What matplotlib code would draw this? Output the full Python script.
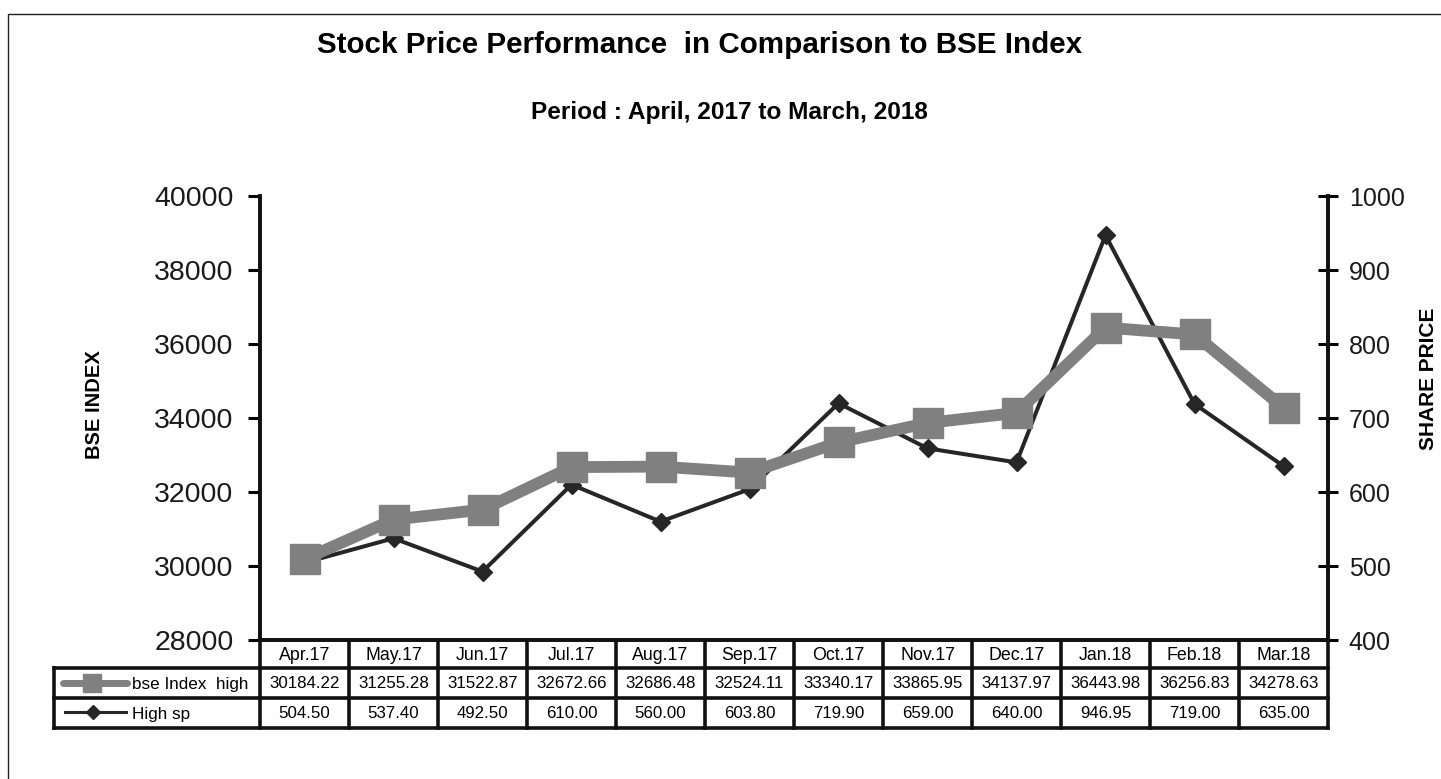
import matplotlib
matplotlib.use("Agg")
import matplotlib.pyplot as plt
from matplotlib.lines import Line2D
from matplotlib.patches import Rectangle

plt.rcParams['font.family'] = ['Liberation Sans', 'DejaVu Sans']

months = ["Apr.17", "May.17", "Jun.17", "Jul.17", "Aug.17", "Sep.17",
          "Oct.17", "Nov.17", "Dec.17", "Jan.18", "Feb.18", "Mar.18"]
bse_high = [30184.22, 31255.28, 31522.87, 32672.66, 32686.48, 32524.11,
            33340.17, 33865.95, 34137.97, 36443.98, 36256.83, 34278.63]
high_sp = [504.50, 537.40, 492.50, 610.00, 560.00, 603.80,
           719.90, 659.00, 640.00, 946.95, 719.00, 635.00]
series_names = ["bse Index  high", "High sp"]
left_ticks = [28000, 30000, 32000, 34000, 36000, 38000, 40000]
right_ticks = [400, 500, 600, 700, 800, 900, 1000]

W, H = 1441, 779
fig = plt.figure(figsize=(W / 100, H / 100), dpi=100)

def fx(px):
    return px / W

def fy(py):
    return 1 - py / H

L, R, T, B = 260, 1328, 196, 640
ax = fig.add_axes([fx(L), fy(B), fx(R) - fx(L), fy(T) - fy(B)])
ax2 = ax.twinx()

gray = "#808080"
dark = "#262626"
x = list(range(len(months)))

ax.plot(x, bse_high, color=gray, lw=8.5, marker="s", markersize=21,
        markerfacecolor=gray, markeredgecolor=gray, solid_joinstyle="round", zorder=2)
ax2.plot(x, high_sp, color=dark, lw=2.9, marker="D", markersize=9,
         markerfacecolor=dark, markeredgecolor=dark, zorder=3)

ax.set_xlim(-0.5, len(months) - 0.5)
ax.set_ylim(28000, 40000)
ax2.set_ylim(400, 1000)
ax.set_yticks(left_ticks)
ax2.set_yticks(right_ticks)
ax.set_xticks([])
ax.tick_params(axis="y", direction="out", length=9, width=2.2, labelsize=20.5, pad=10,
               labelcolor="#1a1a1a")
ax2.tick_params(axis="y", direction="inout", length=14, width=2.2, labelsize=18, pad=8,
                labelcolor="#1a1a1a")
for a in (ax, ax2):
    a.spines["top"].set_visible(False)
    for s in ("left", "right", "bottom"):
        a.spines[s].set_linewidth(2.6)
        a.spines[s].set_color("#111111")
ax.set_zorder(ax2.get_zorder() + 1)
ax.patch.set_visible(False)

# outer border
fig.add_artist(Rectangle((fx(8), fy(790)), fx(1450) - fx(8), fy(14) - fy(790),
                         transform=fig.transFigure, fill=False, lw=1.0, ec="#222222"))

# titles
fig.text(fx(700), fy(45), "Stock Price Performance  in Comparison to BSE Index",
         ha="center", va="center", fontsize=21.3, fontweight="bold")
fig.text(fx(729), fy(112), "Period : April, 2017 to March, 2018",
         ha="center", va="center", fontsize=17.6, fontweight="bold")
fig.text(fx(95), fy(405), "BSE INDEX", rotation=90, ha="center", va="center",
         fontsize=14.5, fontweight="bold")
fig.text(fx(1428), fy(379), "SHARE PRICE", rotation=90, ha="center", va="center",
         fontsize=15, fontweight="bold")

# table
row_y = [640, 668, 698, 728]
tl = 54
col_w = (R - L) / len(months)
lw_t = 2.6

def hline(x0, x1, y):
    fig.add_artist(Line2D([fx(x0), fx(x1)], [fy(y), fy(y)], transform=fig.transFigure,
                          color="#111111", lw=lw_t))

def vline(xp, y0, y1):
    fig.add_artist(Line2D([fx(xp), fx(xp)], [fy(y0), fy(y1)], transform=fig.transFigure,
                          color="#111111", lw=lw_t))

hline(tl, R, row_y[1])
hline(tl, R, row_y[2])
hline(tl, R, row_y[3])
vline(tl, row_y[1], row_y[3])
for i in range(len(months) + 1):
    vline(L + i * col_w, row_y[0], row_y[3])

for i, m in enumerate(months):
    cx = L + (i + 0.5) * col_w
    fig.text(fx(cx), fy(656), m, ha="center", va="center", fontsize=12.8)
    fig.text(fx(cx), fy(684), f"{bse_high[i]:.2f}", ha="center", va="center", fontsize=12.2)
    fig.text(fx(cx), fy(713), f"{high_sp[i]:.2f}", ha="center", va="center", fontsize=12.2)

# legend keys in table
fig.add_artist(Line2D([fx(63), fx(92), fx(127)], [fy(683)] * 3, transform=fig.transFigure,
                      color=gray, lw=5, marker="s", markevery=[1], markersize=13,
                      markerfacecolor=gray, markeredgecolor=gray, solid_capstyle="round"))
fig.add_artist(Line2D([fx(65), fx(93), fx(126)], [fy(712)] * 3, transform=fig.transFigure,
                      color=dark, lw=2.2, marker="D", markevery=[1], markersize=7,
                      markerfacecolor=dark, markeredgecolor=dark))
fig.text(fx(132), fy(684), series_names[0], ha="left", va="center", fontsize=12.3)
fig.text(fx(132), fy(714), series_names[1], ha="left", va="center", fontsize=12.3)

fig.savefig("out.png", dpi=100)
